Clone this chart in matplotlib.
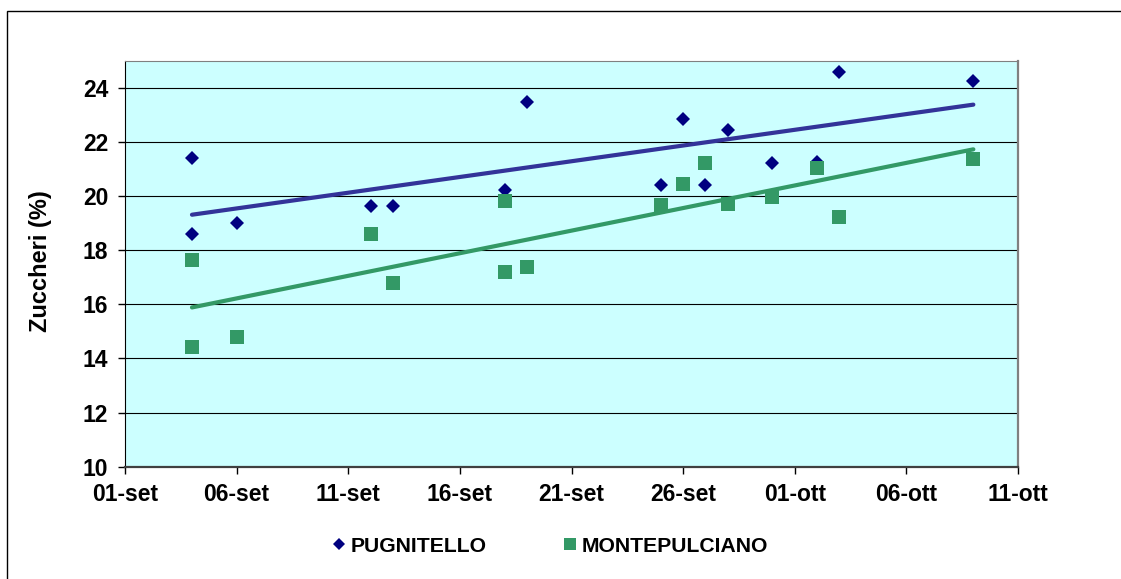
import pandas as pd
import numpy as np
import matplotlib
matplotlib.use("Agg")
import matplotlib.pyplot as plt
import matplotlib.dates as mdates
from matplotlib.ticker import FuncFormatter
from matplotlib.patches import Rectangle

# Font settings (Arial-like, bold everywhere)
plt.rcParams['font.family'] = ['Liberation Sans', 'DejaVu Sans']
plt.rcParams['font.weight'] = 'bold'

# Sampling dates and sugar content (%)
pug_dates = ['2008-09-04', '2008-09-04', '2008-09-06', '2008-09-12', '2008-09-13',
             '2008-09-18', '2008-09-19', '2008-09-25', '2008-09-26', '2008-09-27',
             '2008-09-28', '2008-09-30', '2008-10-02', '2008-10-03', '2008-10-09']
pug_values = [21.4, 18.6, 19.0, 19.63, 19.63,
              20.24, 23.46, 20.42, 22.85, 20.42,
              22.43, 21.21, 21.25, 24.6, 24.25]

mon_dates = ['2008-09-04', '2008-09-04', '2008-09-06', '2008-09-12', '2008-09-13',
             '2008-09-18', '2008-09-18', '2008-09-19', '2008-09-25', '2008-09-26',
             '2008-09-27', '2008-09-28', '2008-09-30', '2008-10-02', '2008-10-03',
             '2008-10-09']
mon_values = [17.64, 14.43, 14.79, 18.6, 16.78,
              19.82, 17.2, 17.39, 19.66, 20.43,
              21.21, 19.71, 19.95, 21.04, 19.21,
              21.35]

x_start = '2008-09-01'
x_end = '2008-10-11'
it_months = {9: 'set', 10: 'ott'}

pug_x = mdates.date2num(pd.to_datetime(pug_dates))
mon_x = mdates.date2num(pd.to_datetime(mon_dates))

W, H = 1121, 579
fig = plt.figure(figsize=(W / 100, H / 100), dpi=100)
ax = fig.add_axes([125 / W, (H - 466.7) / H, (1018 - 125) / W, (466.7 - 60.7) / H])
ax.set_facecolor('#CCFFFF')

# Linear trendlines
def trend(x, y):
    k, b = np.polyfit(x, y, 1)
    xs = np.array([x.min(), x.max()])
    return xs, k * xs + b

tx, ty = trend(pug_x, pug_values)
ax.plot(tx, ty, color='#333399', lw=3, solid_capstyle='round', zorder=3)
tx, ty = trend(mon_x, mon_values)
ax.plot(tx, ty, color='#339966', lw=3, solid_capstyle='round', zorder=3)

# Scatter points
ax.plot(pug_x, pug_values, 'D', color='#000080', ms=7, mew=0, zorder=4, label='PUGNITELLO')
ax.plot(mon_x, mon_values, 's', color='#339966', ms=10, mew=0, zorder=5, label='MONTEPULCIANO')

# Axes ranges and ticks
ax.set_ylim(10, 25)
ax.set_yticks(np.arange(10, 25, 2))
x0 = mdates.date2num(pd.Timestamp(x_start))
x1 = mdates.date2num(pd.Timestamp(x_end))
ax.set_xlim(x0, x1)
ax.set_xticks(np.arange(x0, x1 + 0.5, 5))

def it_date(v, pos):
    d = mdates.num2date(v)
    return '%02d-%s' % (d.day, it_months[d.month])

ax.xaxis.set_major_formatter(FuncFormatter(it_date))
ax.yaxis.grid(True, color='black', lw=0.8)
ax.set_axisbelow(True)
ax.tick_params(axis='both', direction='out', length=5, width=1, labelsize=16.5, pad=7)
for tl in ax.get_xticklabels() + ax.get_yticklabels():
    tl.set_fontweight('bold')

ax.spines['left'].set_color('black')
ax.spines['bottom'].set_color('#404040')
ax.spines['bottom'].set_linewidth(1.6)
ax.spines['top'].set_color('#808080')
ax.spines['right'].set_color('#808080')
ax.spines['right'].set_linewidth(1.6)

fig.text(40 / W, (H - 261) / H, 'Zuccheri (%)', rotation=90, ha='center', va='center',
         fontsize=17, fontweight='bold')

leg = fig.legend(loc='center', bbox_to_anchor=(550 / W, (H - 546) / H), ncol=2, frameon=False,
                 handlelength=0.7, handletextpad=0.2, columnspacing=3.6, markerscale=0.9,
                 prop={'weight': 'bold', 'size': 15.2})

# Outer chart border
fig.patches.append(Rectangle((7 / W, -0.1), 1.2, (H - 11) / H + 0.1, fill=False,
                             edgecolor='black', lw=1, transform=fig.transFigure, figure=fig))

fig.savefig('out.png', dpi=100)
